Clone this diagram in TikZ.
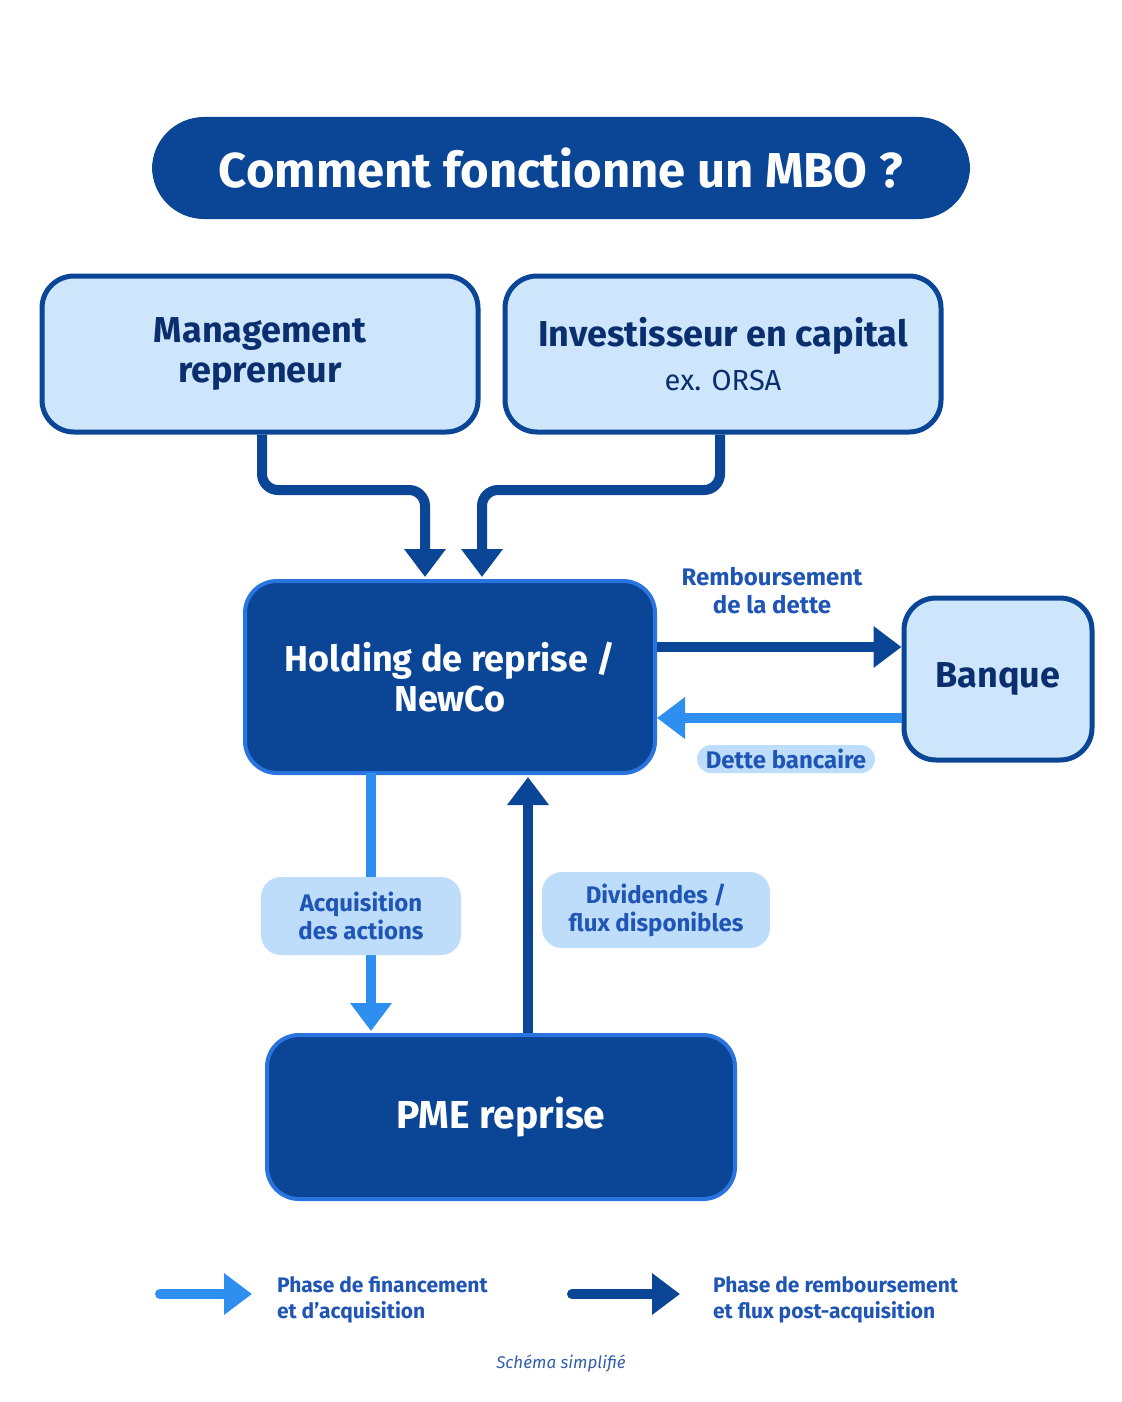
\documentclass[tikz,border=0pt]{standalone}
\usepackage{fontspec}
\setmainfont{Fira Sans}
\usetikzlibrary{arrows.meta}
\definecolor{dk}{HTML}{0A4596}
\definecolor{dkb}{HTML}{2A74E0}
\definecolor{lt}{HTML}{CDE6FB}
\definecolor{lb}{HTML}{2F8FF0}
\definecolor{pill}{HTML}{BEDDFA}
\definecolor{tx}{HTML}{0B2E6E}
\definecolor{lbl}{HTML}{1F55B5}
\begin{document}
\begin{tikzpicture}[x=0.5pt,y=-0.5pt,
 darkbox/.style={draw=dkb,line width=2pt,fill=dk,rounded corners=16pt,text=white,font=\bfseries\fontsize{18}{20}\selectfont,align=center,inner sep=0},
 lightbox/.style={draw=dk,line width=2.5pt,fill=lt,rounded corners=16pt,text=tx,font=\bfseries\fontsize{18}{20}\selectfont,align=center,inner sep=0},
 pillst/.style={fill=pill,rounded corners=10pt,text=lbl,font=\bfseries\fontsize{12}{14}\selectfont,align=center,inner sep=0},
 darr/.style={draw=dk,line width=5pt,rounded corners=8pt,-{Triangle[length=14pt,width=20pt]}},
 larr/.style={draw=lb,line width=5pt,-{Triangle[length=14pt,width=20pt]}}]
\useasboundingbox (0,0) rectangle (1122,1402);
\node[fill=dk,rounded corners=26pt,minimum width=409pt,minimum height=51pt,text=white,font=\bfseries\fontsize{24.5}{26}\selectfont] (title) at (561,168) {Comment fonctionne un MBO ?};
\node[lightbox,minimum width=218pt,minimum height=78pt] (mgmt) at (260,354) {Management\\repreneur};
\node[lightbox,minimum width=218pt,minimum height=78pt] (inv) at (723,354) {Investisseur en capital\\[2pt]{\mdseries\fontsize{14.5}{16}\selectfont ex. ORSA}};
\node[darkbox,minimum width=205pt,minimum height=96pt] (hold) at (450,677) {Holding de reprise /\\NewCo};
\node[lightbox,minimum width=94pt,minimum height=81pt] (bank) at (998,679) {Banque};
\node[darkbox,minimum width=234pt,minimum height=82pt,font=\bfseries\fontsize{19.5}{22}\selectfont] (pme) at (501,1117) {PME reprise};
\coordinate (m1) at (425,577);
\coordinate (i1) at (482,577);
\draw[darr] (mgmt.south -| 262,0) -- (262,490) -- (425,490) -- (m1);
\draw[darr] (inv.south -| 720,0) -- (720,490) -- (482,490) -- (i1);
\draw[darr,rounded corners=0] (hold.east |- 0,647) -- (bank.west |- 0,647);
\draw[larr] (bank.west |- 0,718) -- (hold.east |- 0,718);
\node[text=lbl,font=\bfseries\fontsize{12}{14}\selectfont,align=center] (remb) at (772,591) {Remboursement\\de la dette};
\node[pillst,rounded corners=7pt,minimum width=89pt,minimum height=14pt] (dette) at (786,759) {Dette bancaire};
\draw[larr] (371,773) -- (371,1031);
\node[pillst,minimum width=100pt,minimum height=39pt] (acq) at (361,916) {Acquisition\\des actions};
\draw[darr,rounded corners=0] (528,1033) -- (528,777);
\node[pillst,minimum width=114pt,minimum height=38pt] (div) at (656,910) {Dividendes /\\flux disponibles};
\coordinate (la1) at (160,1294); \coordinate (la2) at (252,1294);
\coordinate (da1) at (572,1294); \coordinate (da2) at (680,1294);
\draw[larr,line cap=round] (la1) -- (la2);
\draw[darr,line cap=round] (da1) -- (da2);
\node[anchor=west,text=lbl,font=\bfseries\fontsize{10.5}{13}\selectfont,align=left] (l1) at (270,1300) {Phase de financement\\et d'acquisition};
\node[anchor=west,text=lbl,font=\bfseries\fontsize{10.5}{13}\selectfont,align=left] (l2) at (706,1300) {Phase de remboursement\\et flux post-acquisition};
\node[text=lbl!80!gray,font=\itshape\fontsize{8.5}{10}\selectfont] (sch) at (561,1364) {Schéma simplifié};
\end{tikzpicture}
\end{document}
